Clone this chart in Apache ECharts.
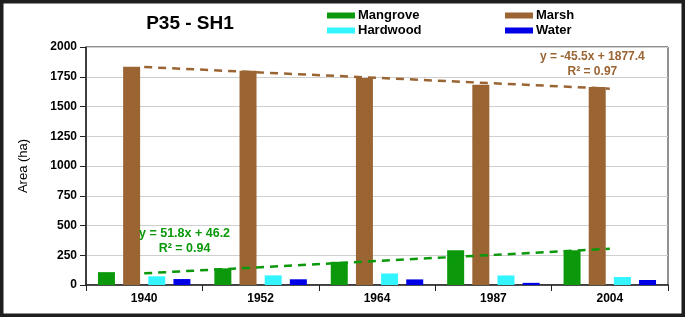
<!DOCTYPE html>
<html>
<head>
<meta charset="utf-8">
<script src="https://cdn.jsdelivr.net/npm/echarts@6/dist/echarts.min.js"></script>
<style>
  html, body { margin: 0; padding: 0; background: #fff; }
  #chart { width: 685px; height: 317px; }
</style>
</head>
<body>
<div id="chart"></div>
<script>
// years on the x axis
var years = ['1940', '1952', '1964', '1987', '2004'];
// area (ha) per habitat
var mangrove = [108, 140, 195, 292, 292];
var marsh = [1835, 1800, 1740, 1683, 1663];
var hardwood = [73, 81, 97, 80, 67];
var water = [50, 48, 47, 18, 42];
// linear trendlines as drawn
var marshTrend = [1832, 1786, 1741, 1695, 1650];
var mangroveTrend = [98, 150, 202, 253, 305];
var yTicks = { min: 0, max: 2000, step: 250 };

var FONT = '"Liberation Sans", Arial, sans-serif';
var C_MANGROVE = '#0b990b', C_MARSH = '#9a6433', C_HARD = '#33f5ff', C_WATER = '#0000e8';

var myChart = echarts.init(document.getElementById('chart'));

function bar(name, data, color) {
    return {
        name: name, type: 'bar', data: data,
        barWidth: 17, barGap: '48%',
        itemStyle: { color: color },
        animation: false
    };
}
function trend(data, color) {
    return {
        type: 'line', data: data, showSymbol: false, silent: true, z: 5,
        lineStyle: { color: color, width: 2.5, type: [8, 6] },
        animation: false
    };
}

var option = {
    backgroundColor: '#fff',
    textStyle: { fontFamily: FONT },
    title: {
        text: 'P35 - SH1', left: 185, top: 9, textAlign: 'center',
        textStyle: { fontSize: 19, fontWeight: 'bold', color: '#000', fontFamily: FONT }
    },
    legend: [{
        data: ['Mangrove', 'Hardwood'], orient: 'vertical', left: 322, top: 4,
        itemWidth: 28, itemHeight: 6, itemGap: 2, icon: 'rect',
        textStyle: { fontSize: 13, fontWeight: 'bold', color: '#000', fontFamily: FONT, padding: [0, 0, 0, -2] }
    }, {
        data: ['Marsh', 'Water'], orient: 'vertical', left: 500, top: 4,
        itemWidth: 28, itemHeight: 6, itemGap: 2, icon: 'rect',
        textStyle: { fontSize: 13, fontWeight: 'bold', color: '#000', fontFamily: FONT, padding: [0, 0, 0, -2] }
    }],
    grid: {
        left: 86, right: 17, top: 47, bottom: 32,
        show: true, borderColor: '#222', borderWidth: 1, backgroundColor: '#fff'
    },
    xAxis: {
        type: 'category', data: years,
        axisLine: { lineStyle: { color: '#222', width: 1.5 } },
        axisTick: { show: true, length: 6, lineStyle: { color: '#222' } },
        axisLabel: { fontSize: 12, fontWeight: 'bold', color: '#000', margin: 8, fontFamily: FONT }
    },
    yAxis: {
        type: 'value', min: yTicks.min, max: yTicks.max, interval: yTicks.step,
        name: 'Area (ha)', nameLocation: 'middle', nameGap: 56, nameRotate: 90,
        nameTextStyle: { fontSize: 13, color: '#000', fontFamily: FONT },
        axisLine: { show: true, lineStyle: { color: '#222', width: 1.5 } },
        axisTick: { show: true, length: 6, lineStyle: { color: '#222' } },
        axisLabel: {
            fontSize: 12, fontWeight: 'bold', color: '#000', margin: 9, fontFamily: FONT,
            formatter: function (v) { return String(v); }
        },
        splitLine: { lineStyle: { color: '#cfcfcf', width: 1 } }
    },
    series: [
        bar('Mangrove', mangrove, C_MANGROVE),
        bar('Marsh', marsh, C_MARSH),
        bar('Hardwood', hardwood, C_HARD),
        bar('Water', water, C_WATER),
        trend(marshTrend, C_MARSH),
        trend(mangroveTrend, C_MANGROVE)
    ],
    graphic: [
        { type: 'text', left: 540, top: 49, z: 10,
          style: { text: 'y = -45.5x + 1877.4\nR² = 0.97', fill: C_MARSH, font: 'bold 12px ' + FONT, textAlign: 'center', lineHeight: 15 } },
        { type: 'text', left: 139, top: 226, z: 10,
          style: { text: 'y = 51.8x + 46.2\nR² = 0.94', fill: C_MANGROVE, font: 'bold 12.5px ' + FONT, textAlign: 'center', lineHeight: 15 } },
        { type: 'rect', z: 20, silent: true,
          shape: { x: 0, y: 0, width: 685, height: 317 },
          style: { fill: 'none', stroke: '#1e1e1e', lineWidth: 7 } }
    ]
};
myChart.setOption(option);
</script>
</body>
</html>
